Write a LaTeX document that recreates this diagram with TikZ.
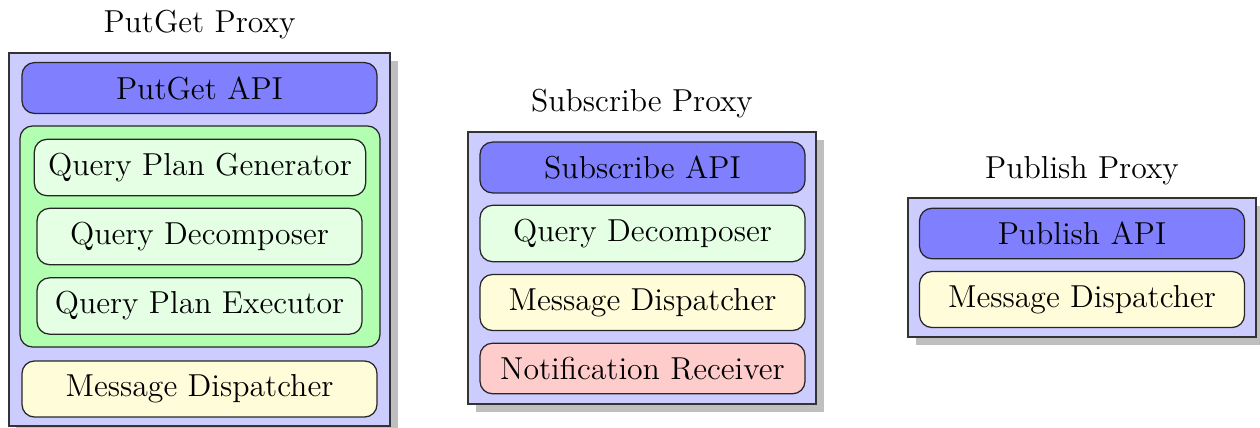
\documentclass[tikz,border=0pt]{standalone}
\usepackage{fontspec}
\usetikzlibrary{shadows}
\begin{document}
\begin{tikzpicture}[x=0.4pt,y=-0.4pt,
  every node/.style={font=\fontsize{12.7}{15}\selectfont},
  proxy/.style={draw=black!80, line width=0.5pt, fill=blue!20, inner sep=0pt,
    drop shadow={shadow xshift=3pt, shadow yshift=-3pt, fill=black!25, opacity=1}},
  comp/.style={draw=black!85, line width=0.5pt, rounded corners=5pt, inner sep=5.5pt, minimum width=130pt},
  wide/.style={comp, minimum width=142pt},
  api/.style={fill=blue!50},
  qry/.style={fill=green!10},
  grp/.style={draw=black!85, line width=0.5pt, rounded corners=5pt, fill=green!30, inner sep=0pt},
  msg/.style={fill=yellow!15},
  notif/.style={fill=red!20},
  title/.style={anchor=base, inner sep=0pt}
]
\useasboundingbox (0,0) rectangle (1260,427);

% PutGet Proxy
\node[proxy, minimum width=152.4pt, minimum height=149.2pt] (pg) at (199.5,239.5) {};
\node[title] (pgt) at (199.5,32.5) {PutGet Proxy};
\node[wide, api] (pgapi) at (199.5,88) {PutGet API};
\node[grp, minimum width=144pt, minimum height=88.4pt] (pggrp) at (200,236.5) {};
\node[comp, qry] (pgqpg) at (200,167.5) {Query Plan Generator};
\node[comp, qry] (pgqd) at (199.5,236.5) {Query Decomposer};
\node[comp, qry] (pgqpe) at (199.5,306) {Query Plan Executor};
\node[wide, msg] (pgmd) at (199.5,389) {Message Dispatcher};

% Subscribe Proxy
\node[proxy, minimum width=139.2pt, minimum height=108.8pt] (sp) at (642,268) {};
\node[title] (spt) at (642,111) {Subscribe Proxy};
\node[comp, api] (spapi) at (642.5,167.5) {Subscribe API};
\node[comp, qry] (spqd) at (642.5,233.5) {Query Decomposer};
\node[comp, msg] (spmd) at (642.5,302.5) {Message Dispatcher};
\node[comp, notif] (spnr) at (642.5,368.5) {Notification Receiver};

% Publish Proxy
\node[proxy, minimum width=139.2pt, minimum height=55.6pt] (pp) at (1082,267.5) {};
\node[title] (ppt) at (1082,178.3) {Publish Proxy};
\node[comp, api] (ppapi) at (1082,233.5) {Publish API};
\node[comp, msg] (ppmd) at (1082,299.5) {Message Dispatcher};
\end{tikzpicture}
\end{document}
